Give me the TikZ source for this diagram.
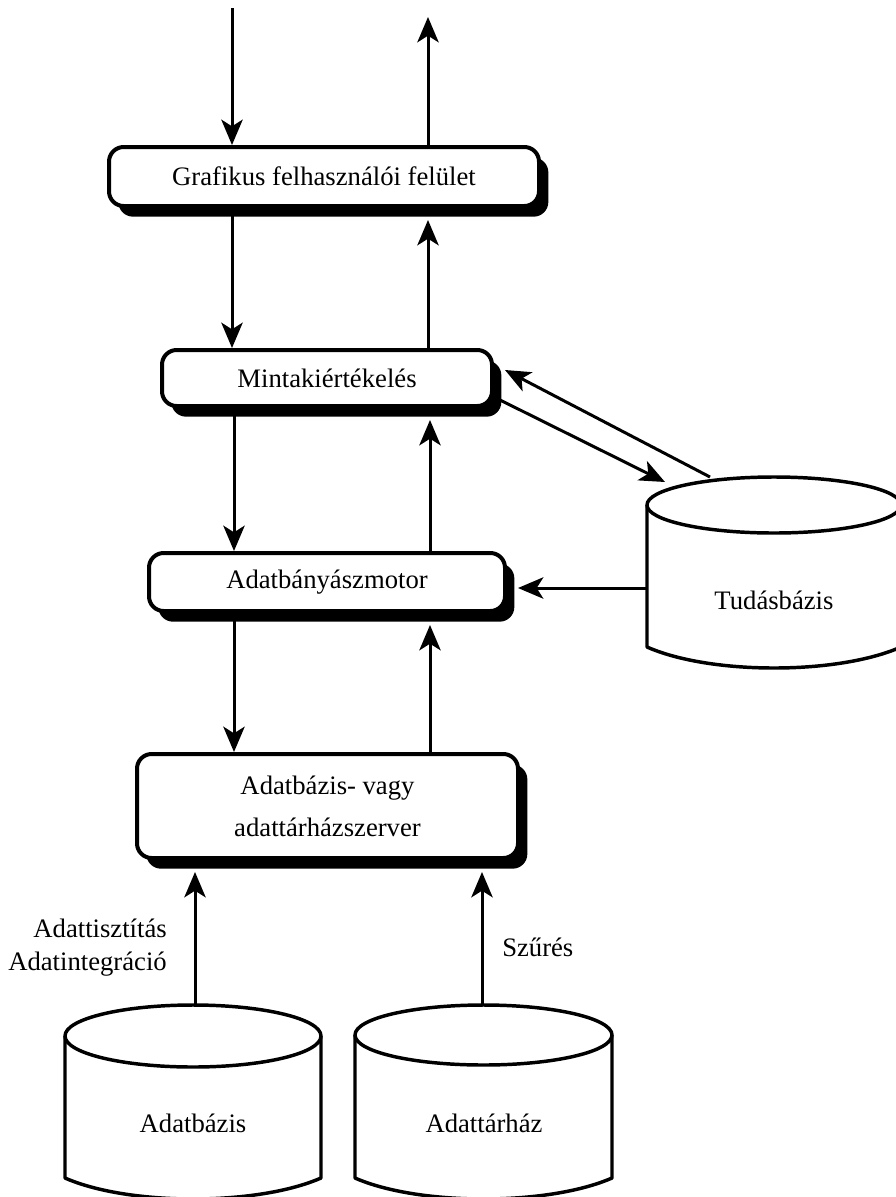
\documentclass[tikz,border=0pt]{standalone}
\usepackage{fontspec}
\setmainfont{Liberation Serif}
\usetikzlibrary{arrows.meta,shadows}
\begin{document}
\begin{tikzpicture}[x=0.75pt,y=-0.75pt,
  box/.style={draw, line width=3pt, rounded corners=11pt, fill=white, inner sep=0pt,
    font=\fontsize{20}{24}\selectfont,
    drop shadow={shadow xshift=7pt, shadow yshift=-8pt, opacity=1, fill=black}},
  arr/.style={line width=2.25pt, -{Stealth[length=19pt,width=16pt,inset=5pt]}},
  cyl/.style={line width=2.6pt, line join=round},
  lbl/.style={font=\fontsize{20}{24.75}\selectfont, inner sep=0pt}
]
\useasboundingbox (0,0) rectangle (896,1197);

% boxes
\node[box, minimum width=322.5pt, minimum height=44.25pt] (graf) at (324,176.5) {Grafikus felhasználói felület};
\node[box, minimum width=247.5pt, minimum height=42pt] (minta) at (327,378) {Mintakiértékelés};
\node[box, minimum width=267pt, minimum height=43.5pt] (motor) at (327,582) {Adatbányászmotor};
\node[box, minimum width=285.75pt, minimum height=78pt, align=center, font=\fontsize{20}{31.5}\selectfont] (szerver) at (327.5,806) {Adatbázis- vagy\\adattárházszerver};

% Tudásbázis cylinder
\fill[white] (647,505) -- (647,647) .. controls (710.5,675) and (837.5,675) .. (901,647) -- (901,505) -- cycle;
\draw[cyl] (647,505) -- (647,647) .. controls (710.5,675) and (837.5,675) .. (901,647) -- (901,505);
\draw[cyl, fill=white] (774,505) ellipse [x radius=127, y radius=28];
\node[lbl] (tudas) at (774,600) {Tudásbázis};

% Adatbázis cylinder
\fill[white] (65,1036) -- (65,1178) .. controls (129,1206) and (257,1206) .. (321,1178) -- (321,1036) -- cycle;
\draw[cyl] (65,1036) -- (65,1178) .. controls (129,1206) and (257,1206) .. (321,1178) -- (321,1036);
\draw[cyl, fill=white] (193,1036) ellipse [x radius=128, y radius=31];
\node[lbl] (adatbazis) at (193,1123) {Adatbázis};

% Adattárház cylinder
\fill[white] (355,1035) -- (355,1178) .. controls (419,1206) and (548,1206) .. (612,1178) -- (612,1035) -- cycle;
\draw[cyl] (355,1035) -- (355,1178) .. controls (419,1206) and (548,1206) .. (612,1178) -- (612,1035);
\draw[cyl, fill=white] (483.5,1035) ellipse [x radius=128.5, y radius=30];
\node[lbl] (adattarhaz) at (484,1123) {Adattárház};

% labels
\node[lbl, anchor=east, align=right] (tisztitas) at (167,948) {Adattisztítás\\Adatintegráció};
\node[lbl, anchor=west] (szures) at (502,947) {Szűrés};

% helper coordinates
\coordinate (in) at (232,8);
\coordinate (out) at (428,17);
\coordinate (xa) at (232,0);
\coordinate (xb) at (428,0);
\coordinate (xc) at (234,0);
\coordinate (xd) at (430,0);
\coordinate (mintaSE) at (500,400);
\coordinate (mintaE) at (505,370);
\coordinate (tudasTa) at (665,482);
\coordinate (tudasTb) at (710,477);
\coordinate (tudasW) at (647,588);
\coordinate (motorE) at (518,588);
\coordinate (dbtop) at (195,1005);
\coordinate (dwtop) at (482,1005);

% arrows
\draw[arr] (in) -- (graf.north -| xa);
\draw[arr] (graf.north -| xb) -- (out);
\draw[arr] (graf.south -| xa) -- (minta.north -| xa);
\draw[arr, shorten >=9pt] (minta.north -| xb) -- (graf.south -| xb);
\draw[arr] (minta.south -| xc) -- (motor.north -| xc);
\draw[arr, shorten >=9pt] (motor.north -| xd) -- (minta.south -| xd);
\draw[arr] (motor.south -| xc) -- (szerver.north -| xc);
\draw[arr, shorten >=9pt] (szerver.north -| xd) -- (motor.south -| xd);
\draw[arr] (mintaSE) -- (tudasTa);
\draw[arr] (tudasTb) -- (mintaE);
\draw[arr] (tudasW) -- (motorE);
\draw[arr, shorten >=9pt] (dbtop) -- (szerver.south -| dbtop);
\draw[arr, shorten >=9pt] (dwtop) -- (szerver.south -| dwtop);
\end{tikzpicture}
\end{document}
